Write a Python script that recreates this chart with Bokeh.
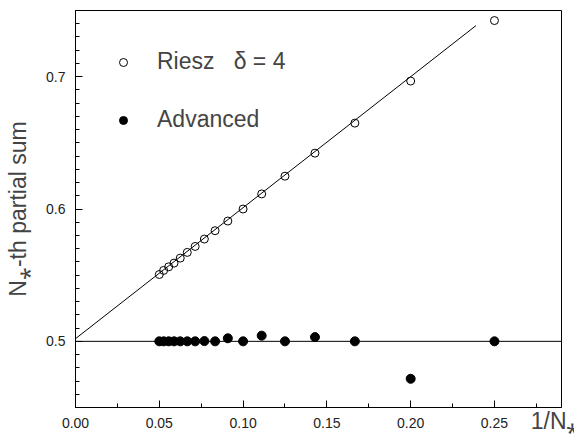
from bokeh.plotting import figure
from bokeh.models import (Range1d, FixedTicker, Span, Legend, LegendItem,
                          CustomJSTickFormatter)
from bokeh.embed import file_html
from bokeh.resources import INLINE

# ---- data ----
inv_n = [0.25, 0.2, 0.1667, 0.1429, 0.125, 0.1111, 0.1, 0.0909, 0.0833,
         0.0769, 0.0714, 0.0667, 0.0625, 0.0588, 0.0556, 0.0526, 0.05]
riesz = [0.7424, 0.6967, 0.6649, 0.6422, 0.6248, 0.6114, 0.6000, 0.5909, 0.5836,
         0.5773, 0.5717, 0.5672, 0.5629, 0.5591, 0.5563, 0.5536, 0.5505]
advanced = [0.5, 0.4717, 0.5, 0.5032, 0.5, 0.5043, 0.5, 0.5023, 0.5,
            0.5002, 0.5, 0.5, 0.5, 0.5, 0.5, 0.5, 0.5]
fit_x = [0.0, 0.239]
fit_y = [0.502, 0.7386]
ref_level = 0.5

x_major = [0.0, 0.05, 0.10, 0.15, 0.20, 0.25]
x_minor = [0.025, 0.075, 0.125, 0.175, 0.225, 0.275]
y_major = [0.5, 0.6, 0.7]
y_minor = [round(0.45 + 0.01 * i, 2) for i in range(31)]

FONT = "Liberation Sans"

p = figure(width=574, height=436, output_backend="svg", toolbar_location=None,
           x_range=Range1d(0, 0.29), y_range=Range1d(0.45, 0.75),
           min_border_left=75, min_border_right=13, min_border_top=10,
           min_border_bottom=29)
p.background_fill_color = "white"
p.border_fill_color = "white"
p.outline_line_color = "black"
p.outline_line_width = 1
p.grid.visible = False

p.add_layout(Span(location=ref_level, dimension="width", line_color="black",
                  line_width=1))
p.line(fit_x, fit_y, line_color="black", line_width=1)

r1 = p.scatter(inv_n, riesz, marker="circle", size=8, fill_color=None,
               line_color="black", line_width=1)
r2 = p.scatter(inv_n, advanced, marker="circle", size=9, fill_color="black",
               line_color="black")

legend = Legend(items=[LegendItem(label="Riesz   \u03b4 = 4", renderers=[r1]),
                       LegendItem(label="Advanced", renderers=[r2])],
                location="top_left", margin=38, padding=0, spacing=31,
                glyph_width=20, glyph_height=26, label_height=26,
                label_standoff=24, label_text_font=FONT,
                label_text_font_size="23px", border_line_color=None,
                background_fill_alpha=0)
p.add_layout(legend)

xa = p.xaxis[0]
xa.ticker = FixedTicker(ticks=x_major, minor_ticks=x_minor)
xa.formatter = CustomJSTickFormatter(code="return tick.toFixed(2);")
ya = p.yaxis[0]
ya.ticker = FixedTicker(ticks=y_major, minor_ticks=y_minor)
ya.formatter = CustomJSTickFormatter(code="return tick.toFixed(1);")

for ax in (xa, ya):
    ax.major_tick_in = 7
    ax.major_tick_out = 0
    ax.minor_tick_in = 4
    ax.minor_tick_out = 0
    ax.axis_line_color = "black"
    ax.major_tick_line_color = "black"
    ax.minor_tick_line_color = "black"
    ax.major_label_text_font = FONT
    ax.major_label_text_font_size = "14px"
    ax.major_label_text_color = "#222222"

xa.major_label_standoff = 10
ya.major_label_standoff = 10
ya.axis_label = "N\u204e-th partial sum"
ya.axis_label_text_font = FONT
ya.axis_label_text_font_size = "23px"
ya.axis_label_text_font_style = "normal"
ya.axis_label_standoff = 12

xa.axis_label = "1/N\u204e\u00a0\u00a0"
xa.axis_label_text_font = FONT
xa.axis_label_text_font_size = "23px"
xa.axis_label_text_font_style = "normal"
xa.axis_label_standoff = -23
if "axis_label_align" in xa.properties():
    xa.axis_label_align = "end"

open("out.html", "w").write(file_html(p, INLINE))
